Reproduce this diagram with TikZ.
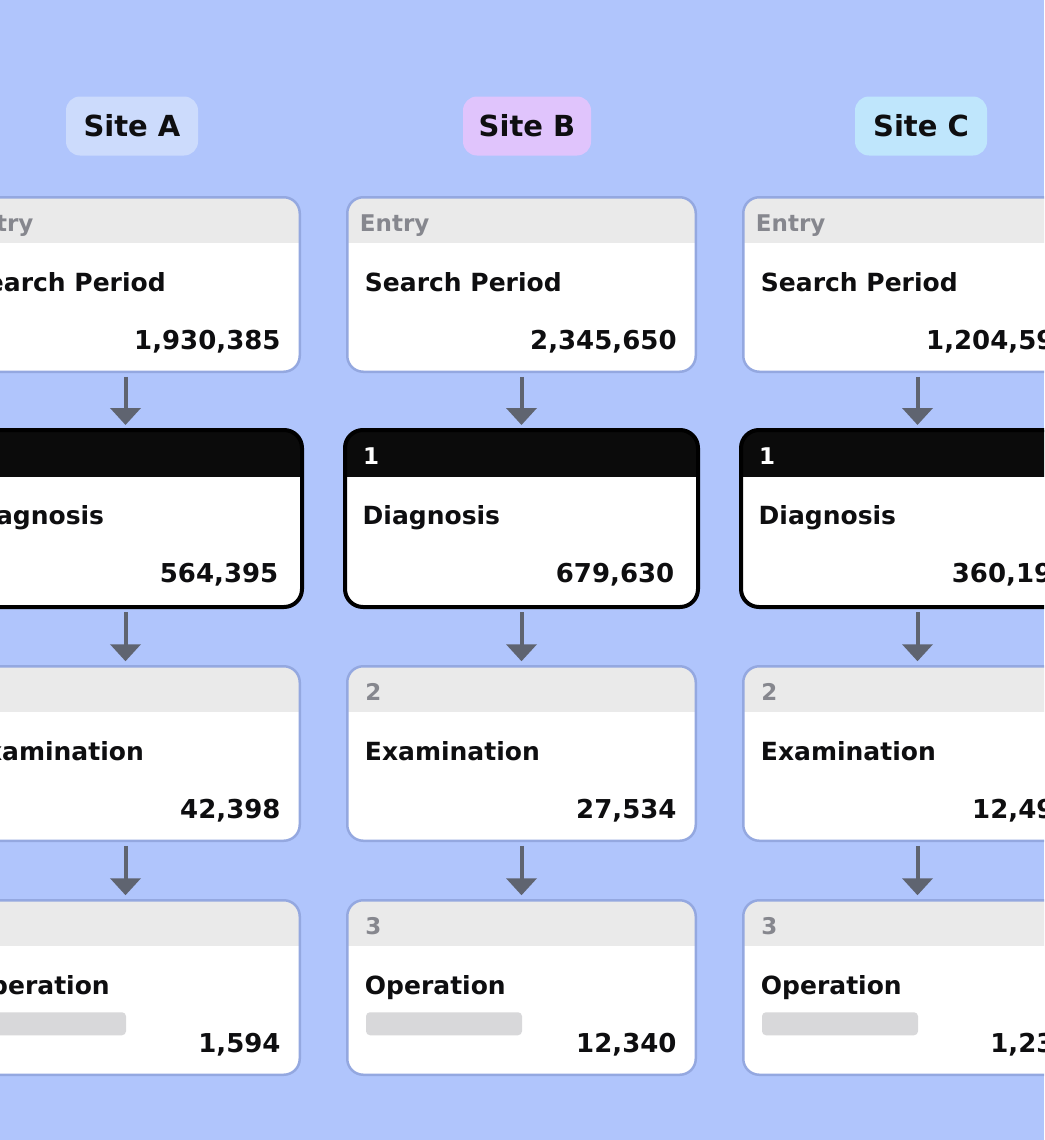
\documentclass[tikz,border=0pt]{standalone}
\usepackage{fontspec}
\setmainfont{DejaVu Sans}
\usetikzlibrary{arrows.meta,calc}
\definecolor{bgc}{RGB}{176,197,252}
\definecolor{cardline}{RGB}{148,168,224}
\definecolor{hdrgray}{RGB}{234,234,234}
\definecolor{graytxt}{RGB}{134,135,142}
\definecolor{barc}{RGB}{216,216,218}
\definecolor{arrc}{RGB}{95,100,112}
\definecolor{ink}{RGB}{14,14,16}
\definecolor{darkhd}{RGB}{11,11,11}
\definecolor{siteA}{RGB}{204,219,252}
\definecolor{siteB}{RGB}{224,196,252}
\definecolor{siteC}{RGB}{191,230,252}
\tikzset{
  cardplain/.style={draw=cardline, line width=2.5pt, fill=white, rounded corners=16pt,
    minimum width=348.5pt, minimum height=174.5pt, inner sep=0pt, outer sep=0pt,
    path picture={\fill[hdrgray, sharp corners] ([xshift=-3pt,yshift=3pt]path picture bounding box.north west)
      rectangle ([xshift=3pt,yshift=-46pt]path picture bounding box.north east);}},
  carddark/.style={draw=black, line width=4pt, fill=white, rounded corners=18pt,
    minimum width=353pt, minimum height=177pt, inner sep=0pt, outer sep=0pt,
    path picture={\fill[darkhd, sharp corners] ([xshift=-3pt,yshift=3pt]path picture bounding box.north west)
      rectangle ([xshift=3pt,yshift=-47pt]path picture bounding box.north east);}},
  cardplainhead/.style={anchor=base west, inner sep=0pt, font=\bfseries\fontsize{23}{27}\selectfont, text=graytxt},
  carddarkhead/.style={anchor=base west, inner sep=0pt, font=\bfseries\fontsize{23}{27}\selectfont, text=white},
  ttl/.style={anchor=base west, inner sep=0pt, font=\bfseries\fontsize{25}{30}\selectfont, text=ink},
  num/.style={anchor=base east, inner sep=0pt, font=\bfseries\fontsize{26}{31}\selectfont, text=ink},
  site/.style={rounded corners=14pt, minimum height=59pt, inner sep=0pt,
    font=\bfseries\fontsize{29}{34}\selectfont, text=ink},
  arr/.style={draw=arrc, line width=4pt, -{Triangle[width=30pt,length=17pt]},
    shorten <=5pt, shorten >=5pt},
  bar/.style={fill=barc, rounded corners=4pt}
}
% name, x, y, kind, header, header x offset, title, number, number right offset
\newcommand\mkcard[9]{%
  \node[#4] (#1) at (#2,#3) {};
  \node[#4head] (#1h) at ($(#1.north west)+(#6,34)$) {#5};
  \node[ttl] (#1t) at ($(#1.north west)+(17.5,94)$) {#7};
  \node[num] (#1n) at ($(#1.north east)+(#9,152.5)$) {#8};
}
\begin{document}
\begin{tikzpicture}[x=1pt,y=-1pt]
\useasboundingbox (0,0) rectangle (1044,1140);
\fill[bgc] (0,0) rectangle (1044,1140);
\clip (0,0) rectangle (1044,1140);

% site labels
\node[site, fill=siteA, minimum width=132pt] (sA) at (132,126) {Site A};
\node[site, fill=siteB, minimum width=128pt] (sB) at (527,126) {Site B};
\node[site, fill=siteC, minimum width=132pt] (sC) at (921,126) {Site C};

% column A
\mkcard{a1}{125.5}{284.5}{cardplain}{Entry}{12.5}{Search Period}{1,930,385}{-19}
\mkcard{a2}{125.5}{518.5}{carddark}{1}{18}{Diagnosis}{564,395}{-23.5}
\mkcard{a3}{125.5}{753.5}{cardplain}{2}{18}{Examination}{42,398}{-19}
\mkcard{a4}{125.5}{987.5}{cardplain}{3}{18}{Operation}{1,594}{-19}
% column B
\mkcard{b1}{521.5}{284.5}{cardplain}{Entry}{12.5}{Search Period}{2,345,650}{-19}
\mkcard{b2}{521.5}{518.5}{carddark}{1}{18}{Diagnosis}{679,630}{-23.5}
\mkcard{b3}{521.5}{753.5}{cardplain}{2}{18}{Examination}{27,534}{-19}
\mkcard{b4}{521.5}{987.5}{cardplain}{3}{18}{Operation}{12,340}{-19}
% column C
\mkcard{c1}{917.5}{284.5}{cardplain}{Entry}{12.5}{Search Period}{1,204,597}{-19}
\mkcard{c2}{917.5}{518.5}{carddark}{1}{18}{Diagnosis}{360,192}{-23.5}
\mkcard{c3}{917.5}{753.5}{cardplain}{2}{18}{Examination}{12,493}{-19}
\mkcard{c4}{917.5}{987.5}{cardplain}{3}{18}{Operation}{1,234}{-19}

% placeholder bars
\foreach \k in {a4,b4,c4}
  \fill[bar] ($(\k.north west)+(18.75,112)$) rectangle ++(156,23);

% arrows
\foreach \k in {a,b,c}{
  \draw[arr] (\k1.south) -- (\k2.north);
  \draw[arr] (\k2.south) -- (\k3.north);
  \draw[arr] (\k3.south) -- (\k4.north);
}
\end{tikzpicture}
\end{document}
